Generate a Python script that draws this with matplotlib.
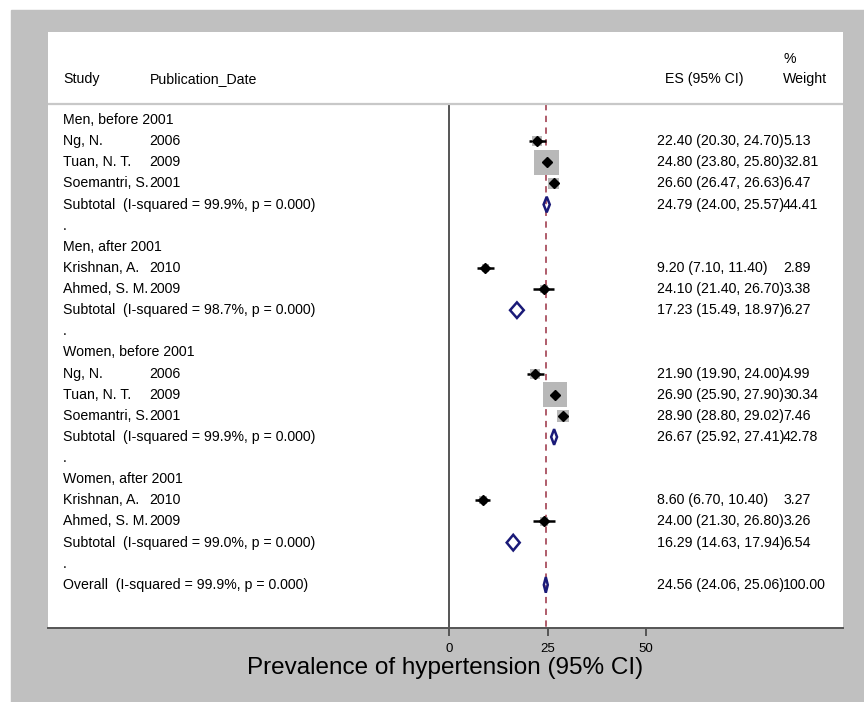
import matplotlib
matplotlib.use("Agg")
import matplotlib.pyplot as plt
from matplotlib.patches import Polygon, Rectangle

plt.rcParams["font.family"] = ["Liberation Sans", "DejaVu Sans"]

# ---- data ----
group_titles = ["Men, before 2001", "Men, after 2001",
                "Women, before 2001", "Women, after 2001"]

study_group = [0, 0, 0, 1, 1, 2, 2, 2, 3, 3]
study_names = ["Ng, N.", "Tuan, N. T.", "Soemantri, S.",
               "Krishnan, A.", "Ahmed, S. M.",
               "Ng, N.", "Tuan, N. T.", "Soemantri, S.",
               "Krishnan, A.", "Ahmed, S. M."]
study_years = ["2006", "2009", "2001", "2010", "2009",
               "2006", "2009", "2001", "2010", "2009"]
study_es = [22.40, 24.80, 26.60, 9.20, 24.10, 21.90, 26.90, 28.90, 8.60, 24.00]
study_lo = [20.30, 23.80, 26.47, 7.10, 21.40, 19.90, 25.90, 28.80, 6.70, 21.30]
study_hi = [24.70, 25.80, 26.63, 11.40, 26.70, 24.00, 27.90, 29.02, 10.40, 26.80]
study_weight = [5.13, 32.81, 6.47, 2.89, 3.38, 4.99, 30.34, 7.46, 3.27, 3.26]

subtotal_i2 = [99.9, 98.7, 99.9, 99.0]
subtotal_p = [0.000, 0.000, 0.000, 0.000]
subtotal_es = [24.79, 17.23, 26.67, 16.29]
subtotal_lo = [24.00, 15.49, 25.92, 14.63]
subtotal_hi = [25.57, 18.97, 27.41, 17.94]
subtotal_weight = [44.41, 6.27, 42.78, 6.54]

overall_i2 = 99.9
overall_p = 0.000
overall_es = 24.56
overall_lo = 24.06
overall_hi = 25.06
overall_weight = 100.00

xticks = [0, 25, 50]
xlabel = "Prevalence of hypertension (95% CI)"

# ---- layout (data units) ----
X_STUDY = -98.0
X_YEAR = -76.0
X_ES = 52.8
X_W = 84.8
TXT = 10.2
NAVY = "#1a1a78"
BOXGRAY = "#b8b8b8"
Y_TOP, Y_BOT = -4.165, 24.04
Y_HDR = -0.76

fig = plt.figure(figsize=(8.64, 7.02), dpi=100)
fig.patch.set_facecolor("white")
fig.patches.append(Rectangle((11 / 864, 0), 1, (702 - 10) / 702,
                             transform=fig.transFigure, color="#c0c0c0",
                             zorder=-10))

ax = fig.add_axes([48 / 864, (702 - 628) / 702, (843 - 48) / 864, (628 - 32) / 702])
ax.set_facecolor("white")
ax.set_xlim(-101.8, 100.0)
ax.set_ylim(Y_BOT, Y_TOP)
for s in ["top", "left", "right"]:
    ax.spines[s].set_visible(False)
ax.spines["bottom"].set_color("#555555")
ax.spines["bottom"].set_linewidth(1.4)
ax.set_yticks([])
ax.set_xticks(xticks)
ax.set_xticklabels([str(t) for t in xticks], fontsize=9.5)
ax.tick_params(axis="x", length=6, width=1.4, color="#555555", pad=5)
ax.set_xlabel(xlabel, fontsize=17.5, labelpad=1)

# header
ax.text(X_STUDY, -1.94, "Study", fontsize=TXT, va="center", ha="left")
ax.text(X_YEAR, -1.94, "Publication_Date", fontsize=TXT, va="center", ha="left")
ax.text(X_ES + 2, -1.94, "ES (95% CI)", fontsize=TXT, va="center", ha="left")
ax.text(X_W, -2.89, "%", fontsize=TXT, va="center", ha="left")
ax.text(X_W, -1.94, "Weight", fontsize=TXT, va="center", ha="left")
ax.axhline(Y_HDR, color="#c8c8c8", lw=1.6)

# reference lines
ax.plot([0, 0], [Y_HDR, Y_BOT], color="#555555", lw=1.4, zorder=1)
ax.plot([overall_es, overall_es], [Y_HDR, Y_BOT], color="#a94f5f", lw=1.3,
        ls=(0, (3.5, 3)), zorder=1)


def diamond(y, es, lo, hi):
    h = 0.37
    ax.add_patch(Polygon([(lo, y), (es, y - h), (hi, y), (es, y + h)],
                         closed=True, fill=False, edgecolor=NAVY, lw=1.8,
                         zorder=4))


def es_text(y, es, lo, hi, w):
    ax.text(X_ES, y, "%.2f (%.2f, %.2f)" % (es, lo, hi), fontsize=TXT,
            va="center", ha="left")
    ax.text(X_W, y, "%.2f" % w, fontsize=TXT, va="center", ha="left")


row = 0
for g, title in enumerate(group_titles):
    ax.text(X_STUDY, row, title, fontsize=TXT, va="center", ha="left")
    row += 1
    for i in range(len(study_names)):
        if study_group[i] != g:
            continue
        ax.text(X_STUDY, row, study_names[i], fontsize=TXT, va="center", ha="left")
        ax.text(X_YEAR, row, study_years[i], fontsize=TXT, va="center", ha="left")
        ax.plot([study_lo[i], study_hi[i]], [row, row], color="black", lw=1.8,
                solid_capstyle="butt", zorder=2)
        ax.scatter([study_es[i]], [row], marker="s", s=10.2 * study_weight[i],
                   color=BOXGRAY, edgecolor="none", zorder=3)
        ax.plot([study_es[i]], [row], marker="D", ms=5, color="black", zorder=5)
        es_text(row, study_es[i], study_lo[i], study_hi[i], study_weight[i])
        row += 1
    ax.text(X_STUDY, row,
            "Subtotal  (I-squared = %.1f%%, p = %.3f)" % (subtotal_i2[g], subtotal_p[g]),
            fontsize=TXT, va="center", ha="left")
    diamond(row, subtotal_es[g], subtotal_lo[g], subtotal_hi[g])
    es_text(row, subtotal_es[g], subtotal_lo[g], subtotal_hi[g], subtotal_weight[g])
    row += 1
    ax.text(X_STUDY, row, ".", fontsize=TXT, va="center", ha="left")
    row += 1

ax.text(X_STUDY, row, "Overall  (I-squared = %.1f%%, p = %.3f)" % (overall_i2, overall_p),
        fontsize=TXT, va="center", ha="left")
diamond(row, overall_es, overall_lo, overall_hi)
es_text(row, overall_es, overall_lo, overall_hi, overall_weight)

fig.savefig("out.png", dpi=100)
